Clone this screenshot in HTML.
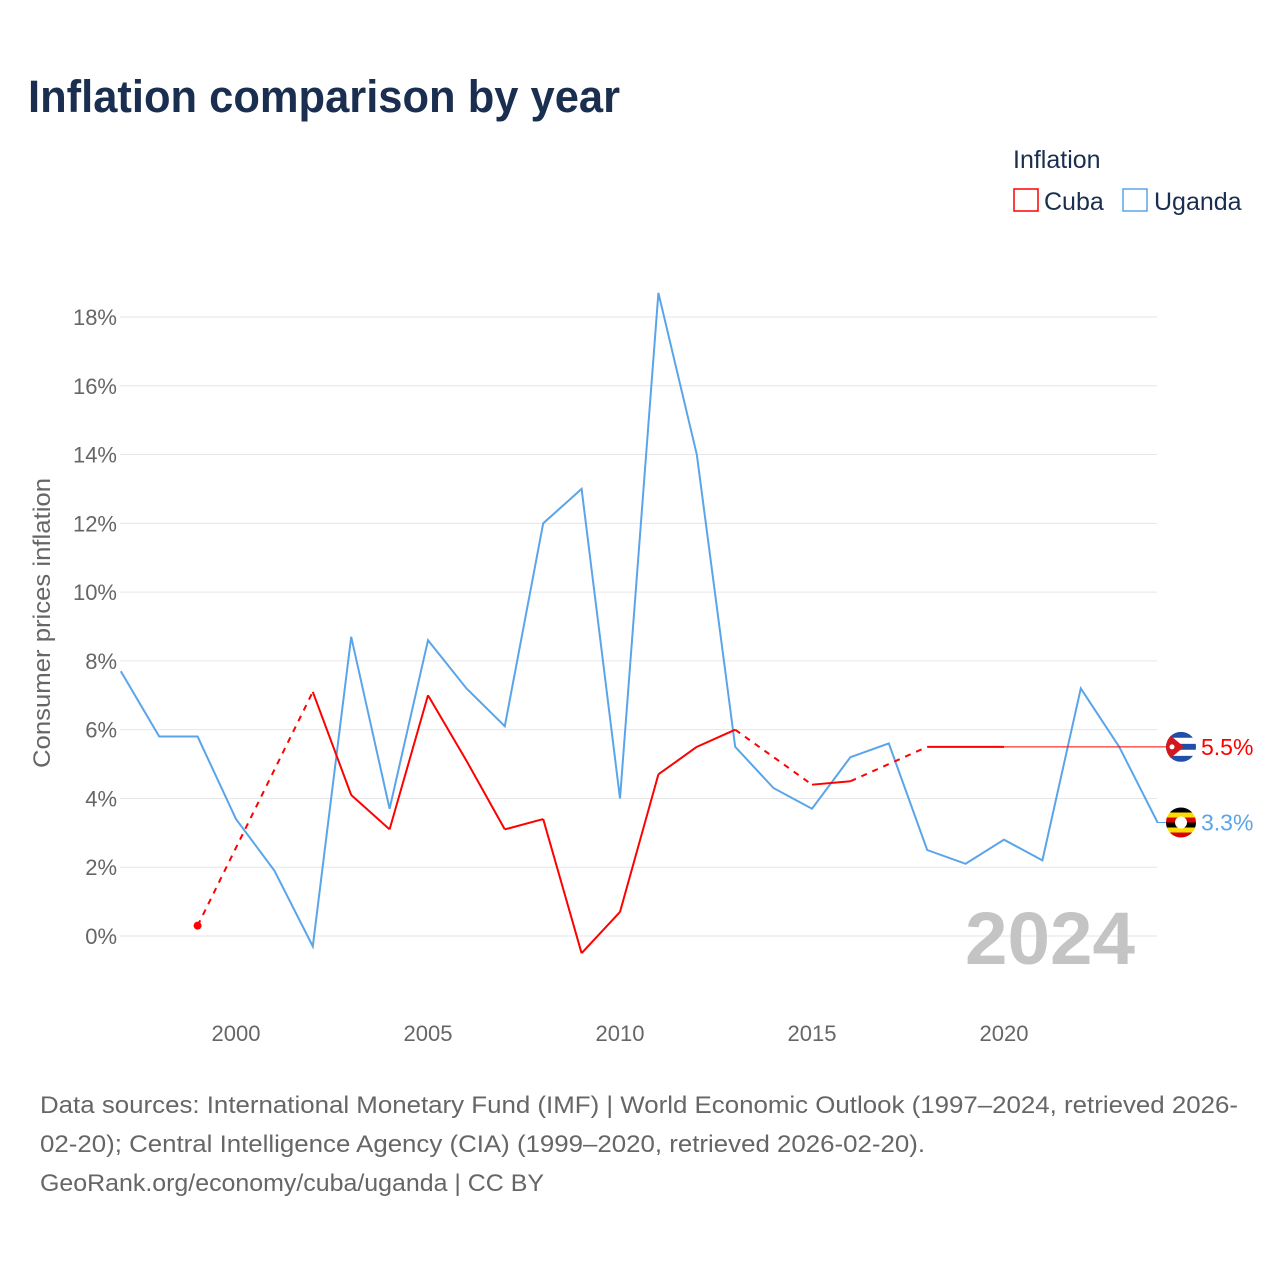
<!DOCTYPE html>
<html><head><meta charset="utf-8"><style>
body{margin:0;background:#fff;font-family:"Liberation Sans",sans-serif;}
#wrap{position:relative;width:1280px;height:1280px;}
</style></head><body><div id="wrap">
<svg id="chart" width="1280" height="1280" xmlns="http://www.w3.org/2000/svg">
<text x="28" y="112" font-size="45" font-weight="bold" fill="#1a2e50" textLength="592" lengthAdjust="spacingAndGlyphs">Inflation comparison by year</text>
<text x="1013" y="168" font-size="25" fill="#1a2e50">Inflation</text>
<g><rect x="1014" y="189" width="24" height="22" fill="none" stroke="#ff0000" stroke-width="1.5"/><text x="1044" y="210" font-size="25" fill="#1a2e50">Cuba</text></g>
<g><rect x="1123" y="189" width="24" height="22" fill="none" stroke="#5aa5ea" stroke-width="1.5"/><text x="1154" y="210" font-size="25" fill="#1a2e50">Uganda</text></g>
<text transform="translate(50,623) rotate(-90)" text-anchor="middle" font-size="24" fill="#666" textLength="290" lengthAdjust="spacingAndGlyphs">Consumer prices inflation</text>
<g id="grid"></g><g id="series"></g>
<text x="1135" y="964" text-anchor="end" font-size="74" font-weight="bold" fill="#c4c4c4" textLength="170" lengthAdjust="spacingAndGlyphs">2024</text>
<g font-size="24" fill="#666">
<text x="40" y="1113" textLength="1198" lengthAdjust="spacingAndGlyphs">Data sources: International Monetary Fund (IMF) | World Economic Outlook (1997–2024, retrieved 2026-</text>
<text x="40" y="1152" textLength="885" lengthAdjust="spacingAndGlyphs">02-20); Central Intelligence Agency (CIA) (1999–2020, retrieved 2026-02-20).</text>
<text x="40" y="1191" textLength="504" lengthAdjust="spacingAndGlyphs">GeoRank.org/economy/cuba/uganda | CC BY</text></g>
</svg></div>
<script>
const years=[1997,1998,1999,2000,2001,2002,2003,2004,2005,2006,2007,2008,2009,2010,2011,2012,2013,2014,2015,2016,2017,2018,2019,2020,2021,2022,2023,2024];
const uganda=[7.7,5.8,5.8,3.4,1.9,-0.3,8.7,3.7,8.6,7.2,6.1,12.0,13.0,4.0,18.7,14.0,5.5,4.3,3.7,5.2,5.6,2.5,2.1,2.8,2.2,7.2,5.5,3.3];
const cuba=[null,null,0.3,null,null,7.1,4.1,3.1,7.0,5.1,3.1,3.4,-0.5,0.7,4.7,5.5,6.0,null,4.4,4.5,null,5.5,5.5,5.5,null,null,null,null];
const yTicks=[0,2,4,6,8,10,12,14,16,18];
const xTicks=[2000,2005,2010,2015,2020];
const NS="http://www.w3.org/2000/svg";
const x=v=>236+(v-2000)*38.4;
const y=v=>936-v*34.39;
function mk(t,a,p){const e=document.createElementNS(NS,t);for(const k in a)e.setAttribute(k,a[k]);p.appendChild(e);return e;}
const grid=document.getElementById('grid'),ser=document.getElementById('series');
yTicks.forEach(t=>{
 const l=mk('line',{x1:120,x2:1157,y1:y(t),y2:y(t),stroke:'#e6e6e6','stroke-width':1},grid);
 
 
 const tx=mk('text',{x:117,y:y(t)+8,'text-anchor':'end','font-size':22,fill:'#666'},grid);tx.textContent=t+'%';
 
 
});
xTicks.forEach(t=>{
 const tx=mk('text',{x:x(t),y:1041,'text-anchor':'middle','font-size':22,fill:'#666'},grid);tx.textContent=t;
 
 
});
let d='';years.forEach((yr,i)=>{d+=(i?'L':'M')+x(yr)+','+y(uganda[i]);});
const ul=mk('path',{d:d,fill:'none',stroke:'#5aa5ea','stroke-width':2},ser);


let solid='',dashed='',prev=-1;
years.forEach((yr,i)=>{const v=cuba[i];if(v===null)return;
 if(prev>=0){const seg='M'+x(years[prev])+','+y(cuba[prev])+'L'+x(yr)+','+y(v);
  if(i-prev===1)solid+=seg;else dashed+=seg;}
 prev=i;});
const cs=mk('path',{d:solid,fill:'none',stroke:'#ff0000','stroke-width':2},ser);


const cd=mk('path',{d:dashed,fill:'none',stroke:'#ff0000','stroke-width':2,'stroke-dasharray':'6,6'},ser);


const fi=cuba.findIndex(v=>v!==null);
const dot=mk('circle',{cx:x(years[fi]),cy:y(cuba[fi]),r:4,fill:'#ff0000'},ser);


let li=-1;cuba.forEach((v,i)=>{if(v!==null)li=i;});
const cv=cuba[li],uv=uganda[uganda.length-1];
const ext=mk('line',{x1:x(years[li]),x2:1170,y1:y(cv),y2:y(cv),stroke:'#ff0000','stroke-width':1},ser);


const ue=mk('line',{x1:1157,x2:1170,y1:y(uv),y2:y(uv),stroke:'#5aa5ea','stroke-width':1},ser);


function flag(cy,kind){const g=mk('g',{},ser);
 const cp=mk('clipPath',{id:'c'+kind},g);mk('circle',{cx:1181,cy:cy,r:15},cp);
 const f=mk('g',{'clip-path':'url(#c'+kind+')'},g);
 if(kind==='cu'){for(let k=0;k<5;k++)mk('rect',{x:1166,y:cy-15+k*6,width:30,height:6,fill:k%2?'#fff':'#1f4fa8'},f);
  mk('path',{d:`M1166,${cy-15}L1184,${cy}L1166,${cy+15}Z`,fill:'#d0181e'},f);
  mk('circle',{cx:1172,cy:cy,r:2.5,fill:'#fff'},f);}
 else{const c=['#000','#fcdc04','#d90000','#000','#fcdc04','#d90000'];c.forEach((cc,k)=>mk('rect',{x:1166,y:cy-15+k*5,width:30,height:5,fill:cc},f));
  mk('circle',{cx:1181,cy:cy,r:6,fill:'#fff'},f);}
 
 }
flag(y(cv),'cu');flag(y(uv),'ug');
const l1=mk('text',{x:1201,y:y(cv)+8,'font-size':23,fill:'#ff0000'},ser);l1.textContent=cv.toFixed(1)+'%';


const l2=mk('text',{x:1201,y:y(uv)+8,'font-size':23,fill:'#5aa5ea'},ser);l2.textContent=uv.toFixed(1)+'%';


</script></body></html>
